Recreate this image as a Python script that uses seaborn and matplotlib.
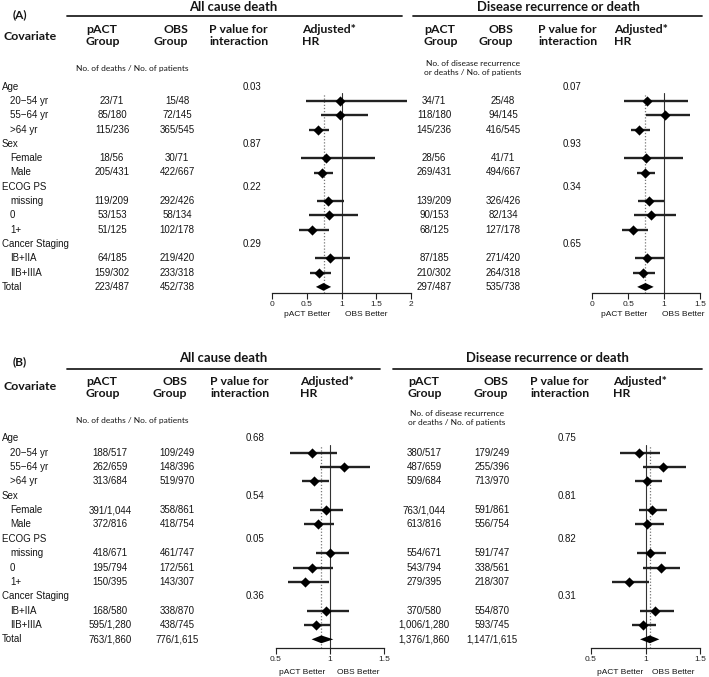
import matplotlib
matplotlib.use("Agg")
import matplotlib.pyplot as plt
import seaborn as sns
import pandas as pd

# ---------------- data ----------------
row_labels = ["Age", "20\u221254 yr", "55\u221264 yr", ">64 yr", "Sex", "Female", "Male",
              "ECOG PS", "missing", "0", "1+", "Cancer Staging", "IB+IIA", "IIB+IIIA", "Total"]
header_rows = [0, 4, 7, 11]
sub_rows = [1, 2, 3, 5, 6, 8, 9, 10, 12, 13]
total_row = 14

# Panel A - all cause death
a_os_pact = ["23/71", "85/180", "115/236", "18/56", "205/431", "119/209", "53/153", "51/125", "64/185", "159/302", "223/487"]
a_os_obs = ["15/48", "72/145", "365/545", "30/71", "422/667", "292/426", "58/134", "102/178", "219/420", "233/318", "452/738"]
a_os_p = ["0.03", "0.87", "0.22", "0.29"]
a_os_hr = [0.98, 0.98, 0.66, 0.78, 0.72, 0.81, 0.82, 0.58, 0.84, 0.67]
a_os_lo = [0.49, 0.70, 0.53, 0.42, 0.60, 0.64, 0.53, 0.39, 0.61, 0.54]
a_os_hi = [1.94, 1.39, 0.82, 1.49, 0.88, 1.04, 1.24, 0.82, 1.12, 0.85]
a_os_tot = [0.74, 0.63, 0.85]

# Panel A - disease recurrence or death
a_dfs_pact = ["34/71", "118/180", "145/236", "28/56", "269/431", "139/209", "90/153", "68/125", "87/185", "210/302", "297/487"]
a_dfs_obs = ["25/48", "94/145", "416/545", "41/71", "494/667", "326/426", "82/134", "127/178", "271/420", "264/318", "535/738"]
a_dfs_p = ["0.07", "0.93", "0.34", "0.65"]
a_dfs_hr = [0.76, 1.01, 0.65, 0.745, 0.73, 0.79, 0.82, 0.565, 0.76, 0.70]
a_dfs_lo = [0.435, 0.745, 0.54, 0.435, 0.62, 0.64, 0.58, 0.42, 0.60, 0.57]
a_dfs_hi = [1.33, 1.36, 0.81, 1.27, 0.87, 1.00, 1.17, 0.78, 1.00, 0.875]
a_dfs_tot = [0.74, 0.625, 0.855]

# Panel B - all cause death
b_os_pact = ["188/517", "262/659", "313/684", "391/1,044", "372/816", "418/671", "195/794", "150/395", "168/580", "595/1,280", "763/1,860"]
b_os_obs = ["109/249", "148/396", "519/970", "358/861", "418/754", "461/747", "172/561", "143/307", "338/870", "438/745", "776/1,615"]
b_os_p = ["0.68", "0.54", "0.05", "0.36"]
b_os_hr = [0.83, 1.13, 0.85, 0.96, 0.89, 1.00, 0.83, 0.77, 0.96, 0.87]
b_os_lo = [0.63, 0.91, 0.74, 0.82, 0.76, 0.87, 0.66, 0.61, 0.785, 0.76]
b_os_hi = [1.06, 1.37, 0.99, 1.12, 1.04, 1.17, 1.03, 0.99, 1.175, 1.00]
b_os_tot = [0.92, 0.83, 1.03]

# Panel B - disease recurrence or death
b_dfs_pact = ["380/517", "487/659", "509/684", "763/1,044", "613/816", "554/671", "543/794", "279/395", "370/580", "1,006/1,280", "1,376/1,860"]
b_dfs_obs = ["179/249", "255/396", "713/970", "591/861", "556/754", "591/747", "338/561", "218/307", "554/870", "593/745", "1,147/1,615"]
b_dfs_p = ["0.75", "0.81", "0.82", "0.31"]
b_dfs_hr = [0.937, 1.164, 1.017, 1.06, 1.017, 1.04, 1.14, 0.85, 1.09, 0.977]
b_dfs_lo = [0.766, 0.98, 0.90, 0.937, 0.90, 0.92, 0.98, 0.696, 0.95, 0.88]
b_dfs_hi = [1.133, 1.375, 1.154, 1.194, 1.167, 1.185, 1.32, 1.03, 1.265, 1.10]
b_dfs_tot = [1.04, 0.95, 1.127]

a_ticks_os = [0, 0.5, 1, 1.5, 2]
a_ticks_dfs = [0, 0.5, 1, 1.5]
b_ticks = [0.5, 1, 1.5]

# ---------------- figure ----------------
sns.set_theme(style="white")
plt.rcParams['font.family'] = ['Liberation Sans', 'DejaVu Sans']

W, H = 709, 677
fig = plt.figure(figsize=(W / 100, H / 100), dpi=100)
TXT = "#151515"
HEAD = ['Lato', 'DejaVu Sans']
DS = 7.0   # data text size


def fx(x):
    return x / W


def fy(y):
    return 1 - y / H


def txt(x, y, s, size=DS, ha="left", va="center", family=None, weight="normal", ls=1.2):
    kw = {}
    if family is not None:
        kw["family"] = family
    fig.text(fx(x), fy(y), s, fontsize=size, ha=ha, va=va, color=TXT,
             weight=weight, linespacing=ls, **kw)


def hline(x0, x1, y):
    fig.add_artist(plt.Line2D([fx(x0), fx(x1)], [fy(y), fy(y)], color="#222222", lw=1.3))


def forest(x0px, x1px, xlim, ticks, ytop_px, ybot_px, y0, dy, hr, lo, hi, tot):
    ax = fig.add_axes([fx(x0px), fy(ybot_px), fx(x1px) - fx(x0px), fy(ytop_px) - fy(ybot_px)])
    ax.patch.set_alpha(0)
    rtop = (ytop_px - y0) / dy
    rbot = (ybot_px - y0) / dy
    df = pd.DataFrame({"row": sub_rows, "hr": hr, "lo": lo, "hi": hi})
    ax.axvline(1, color="#333333", lw=0.8, zorder=1)
    ax.axvline(tot[0], color="#777777", lw=0.9, ls=(0, (1, 1.5)), zorder=1)
    ax.hlines(df["row"], df["lo"], df["hi"], color="#222222", lw=1.7, zorder=2, clip_on=False)
    sns.scatterplot(data=df, x="hr", y="row", marker="D", s=27, color="black",
                    linewidth=0, ax=ax, zorder=3, clip_on=False)
    h = 0.27
    ax.fill([tot[1], tot[0], tot[2], tot[0]],
            [total_row, total_row - h, total_row, total_row + h],
            color="black", lw=0, zorder=3, clip_on=False)
    ax.set_xlim(xlim)
    ax.set_ylim(rbot, rtop)
    for s in ["top", "left", "right"]:
        ax.spines[s].set_visible(False)
    ax.spines["bottom"].set_color("#222222")
    ax.spines["bottom"].set_linewidth(0.9)
    ax.spines["bottom"].set_bounds(xlim[0], xlim[1])
    ax.set_xticks(ticks)
    ax.set_xticklabels([("%g" % t) for t in ticks])
    ax.tick_params(axis="x", direction="out", length=4, width=0.8, colors="#222222",
                   labelsize=6.0, pad=1.5, bottom=True)
    ax.set_yticks([])
    ax.set_xlabel("")
    ax.set_ylabel("")
    return ax


def table(y0, dy, cols):
    for r, lab in enumerate(row_labels):
        x = 2 if (r in header_rows or r == total_row) else 10
        txt(x, y0 + dy * r, lab)
    for (xc, vals) in cols:
        for r, v in zip(sub_rows + [total_row], vals):
            txt(xc, y0 + dy * r, v, ha="center")


def pvals(xc, y0, dy, vals):
    for r, v in zip(header_rows, vals):
        txt(xc, y0 + dy * r, v, ha="center")


def headers(ytitle, yline, yh, cfg):
    for (title, tx, lx0, lx1, px, ox, pvx, hx) in cfg:
        txt(tx, ytitle, title, size=9.4, ha="center", family=HEAD, weight="bold")
        hline(lx0, lx1, yline)
        txt(px, yh, "pACT\nGroup", size=8.8, family=HEAD, weight="bold", ls=1.1)
        txt(ox, yh, "OBS\nGroup", size=8.8, ha="right", family=HEAD, weight="bold", ls=1.1)
        txt(pvx, yh, "P value for\ninteraction", size=8.8, family=HEAD, weight="bold", ls=1.1)
        txt(hx, yh, "Adjusted*\nHR", size=8.8, family=HEAD, weight="bold", ls=1.1)


# ---------------- Panel A ----------------
yA0, dyA = 86.7, 14.3
txt(13, 15, "(A)", size=8.6, family=HEAD, weight="bold")
txt(3, 36, "Covariate", size=8.9, family=HEAD, weight="bold")
headers(7, 16, 35.5, [
    ("All cause death", 233, 67, 402, 86, 188, 209, 302),
    ("Disease recurrence or death", 558, 413, 702, 424, 513, 538, 614),
])
txt(132, 68, "No. of deaths / No. of patients", size=6.0, ha="center", family=HEAD)
txt(473, 68, "No. of disease recurrence\nor deaths / No. of patients", size=6.0, ha="center",
    family=HEAD, ls=1.25)
table(yA0, dyA, [(112, a_os_pact), (177, a_os_obs), (434, a_dfs_pact), (503, a_dfs_obs)])
pvals(252, yA0, dyA, a_os_p)
pvals(572, yA0, dyA, a_dfs_p)
forest(272.3, 410.7, (0, 2), a_ticks_os, 93, 293.3, yA0, dyA, a_os_hr, a_os_lo, a_os_hi, a_os_tot)
forest(592.3, 700, (0, 1.5), a_ticks_dfs, 93, 293.3, yA0, dyA, a_dfs_hr, a_dfs_lo, a_dfs_hi, a_dfs_tot)
txt(330, 315, "pACT Better", size=6.0, ha="right")
txt(345, 315, "OBS Better", size=6.0)
txt(647, 315, "pACT Better", size=6.0, ha="right")
txt(662, 315, "OBS Better", size=6.0)

# ---------------- Panel B ----------------
yB0, dyB = 438.3, 14.36
txt(13, 362, "(B)", size=8.6, family=HEAD, weight="bold")
txt(3, 387, "Covariate", size=8.9, family=HEAD, weight="bold")
headers(358, 369, 387.5, [
    ("All cause death", 223, 67, 380, 86, 187, 210, 300),
    ("Disease recurrence or death", 547, 393, 702, 408, 508, 530, 613),
])
txt(132, 420, "No. of deaths / No. of patients", size=6.0, ha="center", family=HEAD)
txt(457, 418, "No. of disease recurrence\nor deaths / No. of patients", size=6.0, ha="center",
    family=HEAD, ls=1.25)
table(yB0, dyB, [(110, b_os_pact), (177, b_os_obs), (424, b_dfs_pact), (492, b_dfs_obs)])
pvals(255, yB0, dyB, b_os_p)
pvals(567, yB0, dyB, b_dfs_p)
forest(275.7, 384.4, (0.5, 1.5), b_ticks, 445, 648.3, yB0, dyB, b_os_hr, b_os_lo, b_os_hi, b_os_tot)
forest(591, 700, (0.5, 1.5), b_ticks, 445, 648.3, yB0, dyB, b_dfs_hr, b_dfs_lo, b_dfs_hi, b_dfs_tot)
txt(325, 673, "pACT Better", size=6.0, ha="right")
txt(337, 673, "OBS Better", size=6.0)
txt(643, 673, "pACT Better", size=6.0, ha="right")
txt(652, 673, "OBS Better", size=6.0)

fig.savefig("out.png", dpi=100, facecolor="white")
